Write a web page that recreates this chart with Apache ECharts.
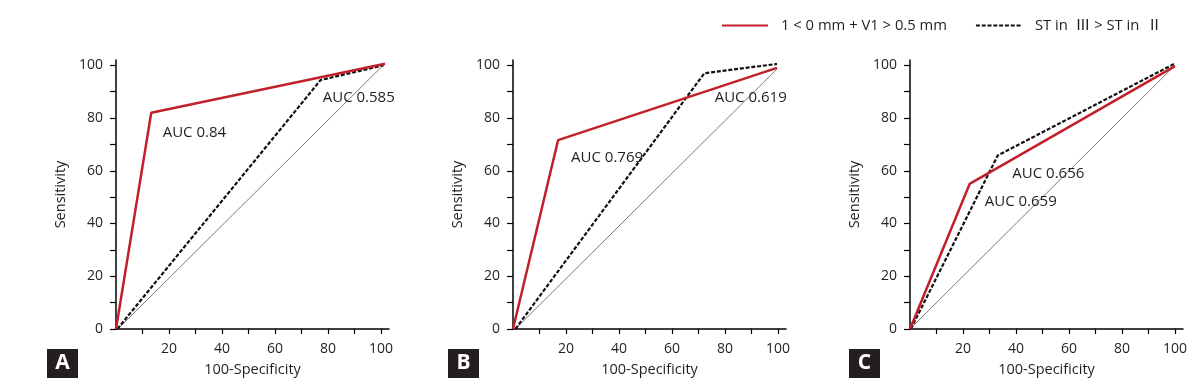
<!DOCTYPE html>
<html><head><meta charset="utf-8">
<script src="https://cdn.jsdelivr.net/npm/echarts@6/dist/echarts.min.js"></script>
<style>html,body{margin:0;padding:0;background:#fff}#c{width:1201px;height:390px}</style>
</head><body><div id="c"></div>
<script>
// ---- data ----
const seriesNames = ['1 < 0 mm + V1 > 0.5 mm', 'ST in  Ⅲ > ST in  Ⅱ'];
const panelLetters = ['A', 'B', 'C'];
// [100-Specificity, Sensitivity]
const redA = [[0, 0], [13.3, 82], [101.5, 100.6]];
const blackA = [[0.5, 0], [77.2, 94.4], [101, 100]];
const refA = [[0.7, 0], [100.8, 100]];
const redB = [[0, 0], [17, 71.6], [99.6, 99]];
const blackB = [[0.9, 0], [72.2, 97], [99.6, 100.5]];
const refB = [[0.9, 0], [99.6, 98.6]];
const redC = [[0, 0], [22.5, 55], [100, 99.7]];
const blackC = [[0.3, 0], [33.1, 65.8], [100, 100.7]];
const refC = [[0, 0], [100, 100]];
// AUC annotations [x, y, text]
const aucA = [[17.6, 74.6, 'AUC 0.84'], [78, 87.7, 'AUC 0.585']];
const aucB = [[21.9, 64.8, 'AUC 0.769'], [76.1, 87.7, 'AUC 0.619']];
const aucC = [[38.6, 58.8, 'AUC 0.656'], [28.2, 48.1, 'AUC 0.659']];
// ticks
const xTicks = [10, 20, 30, 40, 50, 60, 70, 80, 90, 100];
const xTickLabels = [20, 40, 60, 80, 100];
const yTicks = [0, 10, 20, 30, 40, 50, 60, 70, 80, 90, 100];
const yTickLabels = [0, 20, 40, 60, 80, 100];

const panels = [
  {red: redA, black: blackA, ref: refA, auc: aucA},
  {red: redB, black: blackB, ref: refB, auc: aucB},
  {red: redC, black: blackC, ref: refC, auc: aucC}
];
const gridLefts = [116, 513, 910];
const letterLefts = [47, 448, 849];

const FONT = '"Open Sans", "Noto Sans CJK KR", "Noto Sans", sans-serif';
const TXT = '#231f20';
const RED = '#c1202b';

const option = {
  animation: false,
  backgroundColor: '#fff',
  textStyle: {fontFamily: FONT, color: TXT},
  legend: {
    left: 716, top: 13, itemWidth: 46, itemHeight: 14, itemGap: 28,
    data: seriesNames,
    itemStyle: {opacity: 0},
    textStyle: {fontSize: 14.8, color: TXT, fontFamily: FONT, padding: [0, 0, 0, 8]}
  },
  title: panelLetters.map((l, i) => ({
    text: '{a|' + l + '}', left: letterLefts[i], top: 349, padding: 0,
    textStyle: {rich: {a: {width: 31, height: 29, align: 'center', verticalAlign: 'middle', lineHeight: 29,
      backgroundColor: '#231f20', color: '#fff', fontSize: 21, fontWeight: 'bold', fontFamily: FONT}}}
  })),
  grid: gridLefts.map(l => ({left: l, top: 60, width: 273, height: 269})),
  xAxis: panels.map((p, i) => ({
    type: 'value', gridIndex: i, min: 0, max: 103,
    name: '100-Specificity', nameLocation: 'middle', nameGap: 34,
    nameTextStyle: {fontSize: 14.5, color: TXT, fontFamily: FONT},
    splitLine: {show: false},
    axisLine: {show: true, lineStyle: {color: '#000', width: 1.5}},
    axisTick: {show: true, length: 5, customValues: xTicks, lineStyle: {color: '#000', width: 1.2}},
    axisLabel: {customValues: xTickLabels, margin: 13, fontSize: 14, color: TXT, fontFamily: FONT}
  })),
  yAxis: panels.map((p, i) => ({
    type: 'value', gridIndex: i, min: 0, max: 102,
    name: 'Sensitivity', nameLocation: 'middle', nameGap: 48,
    nameTextStyle: {fontSize: 14.5, color: TXT, fontFamily: FONT},
    splitLine: {show: false},
    axisLine: {show: true, lineStyle: {color: '#000', width: 1.5}},
    axisTick: {show: true, length: 6, customValues: yTicks, lineStyle: {color: '#000', width: 1.2}},
    axisLabel: {customValues: yTickLabels, margin: 13, fontSize: 14, color: TXT, fontFamily: FONT}
  })),
  series: []
};

panels.forEach((p, i) => {
  option.series.push({
    type: 'line', xAxisIndex: i, yAxisIndex: i, data: p.ref, symbol: 'none', silent: true,
    lineStyle: {color: '#7a7a7a', width: 1}, z: 1
  });
  option.series.push({
    name: seriesNames[1], type: 'line', xAxisIndex: i, yAxisIndex: i, data: p.black, symbol: 'none',
    color: '#111', lineStyle: {color: '#111', width: 2.2, type: [4, 1.8]}, z: 2
  });
  option.series.push({
    name: seriesNames[0], type: 'line', xAxisIndex: i, yAxisIndex: i, data: p.red, symbol: 'none',
    color: RED, lineStyle: {color: RED, width: 2.5}, z: 3
  });
  option.series.push({
    type: 'scatter', xAxisIndex: i, yAxisIndex: i, data: p.auc, symbolSize: 0, silent: true, z: 4,
    itemStyle: {opacity: 1},
    label: {show: true, position: 'right', distance: 0, formatter: d => d.value[2],
      fontSize: 15, color: TXT, fontFamily: FONT}
  });
});

const chart = echarts.init(document.getElementById('c'), null, {renderer: 'canvas'});
chart.setOption(option);
</script>
</body></html>
